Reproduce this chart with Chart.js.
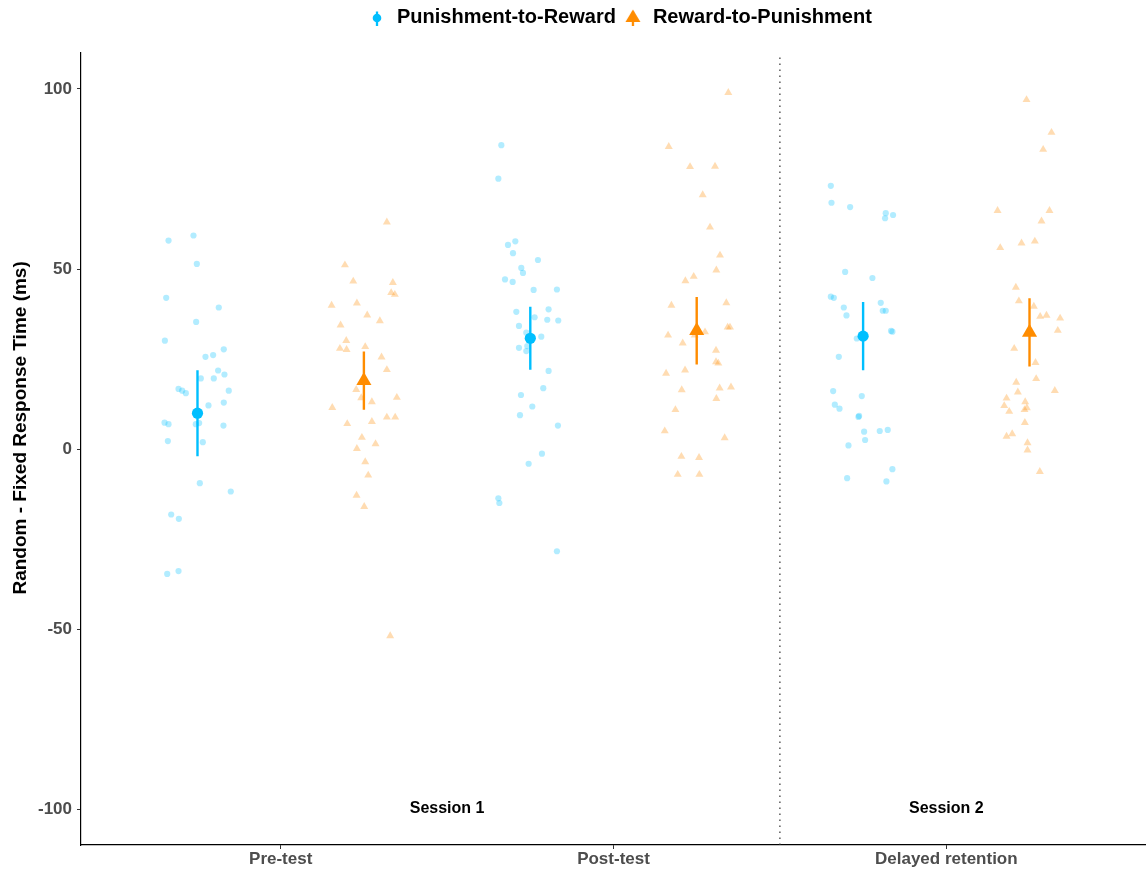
<!DOCTYPE html>
<html>
<head>
<meta charset="utf-8">
<title>Random - Fixed Response Time</title>
<script src="https://cdn.jsdelivr.net/npm/chart.js@4.4.1/dist/chart.umd.min.js"></script>
<style>
  html, body { margin: 0; padding: 0; background: #fff; }
  #wrap { width: 1146px; height: 870px; }
</style>
</head>
<body>
<div id="wrap"><canvas id="chart" width="1146" height="870"></canvas></div>
<script>
// Categorie e gruppi
const phases = ['Pre-test', 'Post-test', 'Delayed retention'];
const groups = ['Punishment-to-Reward', 'Reward-to-Punishment'];
const sessions = ['Session 1', 'Session 2'];
const sessionX = [1.5, 3];
const sessionY = -100;
const yTicks = [-100, -50, 0, 50, 100];

// Medie ed errore standard
const prMean = [9.95, 30.75, 31.35];
const prSE = [11.95, 8.75, 9.45];
const rpMean = [19.0, 32.85, 32.4];
const rpSE = [8.1, 9.35, 9.5];

// Punti individuali (x con jitter)
const prPreY = [57.9, 59.3, 51.4, 42.0, 39.3, 35.3, 30.1, 27.7, 25.6, 26.1, 21.8, 20.7, 19.6, 19.6, 16.7, 16.2, 15.5, 16.2, 12.1, 12.9, 7.3, 6.9, 6.9, 7.2, 6.5, 2.2, 1.9, -9.5, -11.8, -18.2, -19.4, -34.7, -33.9];
const prPreX = [0.663, 0.738, 0.748, 0.656, 0.814, 0.746, 0.652, 0.829, 0.774, 0.797, 0.812, 0.831, 0.760, 0.799, 0.693, 0.704, 0.715, 0.844, 0.783, 0.829, 0.651, 0.663, 0.745, 0.755, 0.828, 0.661, 0.766, 0.757, 0.850, 0.671, 0.694, 0.659, 0.693];

const rpPreY = [63.0, 51.1, 46.6, 46.2, 43.4, 42.9, 39.9, 40.5, 37.2, 35.6, 34.4, 30.1, 27.9, 27.6, 28.4, 25.5, 22.0, 16.5, 14.2, 13.1, 14.3, 11.5, 8.8, 8.8, 7.0, 7.6, 3.2, 0.1, 1.4, -3.6, -7.3, -12.9, -16.0, -51.9];
const rpPreX = [1.319, 1.193, 1.218, 1.337, 1.332, 1.343, 1.153, 1.229, 1.260, 1.298, 1.180, 1.197, 1.178, 1.198, 1.254, 1.303, 1.319, 1.227, 1.242, 1.274, 1.349, 1.155, 1.319, 1.344, 1.200, 1.274, 1.244, 1.229, 1.285, 1.254, 1.263, 1.228, 1.251, 1.329];

const prPostY = [84.4, 75.1, 56.7, 57.7, 54.4, 52.5, 50.3, 48.9, 47.1, 46.4, 44.2, 44.3, 38.8, 38.1, 36.6, 35.9, 35.7, 34.2, 32.3, 31.2, 28.6, 28.1, 27.2, 21.7, 16.9, 15.0, 11.8, 9.4, 6.5, -1.3, -4.1, -13.7, -15.0, -28.4];
const prPostX = [1.663, 1.654, 1.683, 1.705, 1.698, 1.773, 1.723, 1.728, 1.674, 1.697, 1.760, 1.830, 1.805, 1.708, 1.763, 1.801, 1.834, 1.716, 1.738, 1.783, 1.741, 1.716, 1.738, 1.805, 1.789, 1.722, 1.756, 1.719, 1.833, 1.785, 1.745, 1.654, 1.657, 1.830];

const rpPostY = [99.0, 84.0, 78.4, 78.5, 70.6, 61.6, 53.8, 49.7, 47.9, 46.7, 39.9, 40.6, 33.8, 33.8, 32.5, 31.6, 31.6, 29.4, 27.4, 24.2, 23.8, 21.0, 21.9, 16.4, 16.9, 17.2, 14.0, 10.9, 5.0, 3.1, -2.1, -2.4, -7.1, -7.1];
const rpPostX = [2.345, 2.166, 2.230, 2.305, 2.268, 2.290, 2.320, 2.309, 2.241, 2.216, 2.174, 2.339, 2.343, 2.350, 2.275, 2.244, 2.164, 2.208, 2.308, 2.308, 2.315, 2.158, 2.215, 2.205, 2.319, 2.353, 2.309, 2.186, 2.154, 2.334, 2.204, 2.257, 2.193, 2.258];

const prDelY = [73.1, 68.4, 67.2, 65.5, 65.0, 64.1, 49.2, 47.5, 42.3, 42.0, 39.3, 40.6, 38.4, 38.4, 37.1, 32.8, 32.6, 30.7, 25.6, 16.1, 14.7, 12.3, 11.2, 8.9, 9.2, 4.8, 5.0, 5.3, 2.5, 1.0, -5.6, -8.1, -9.0];
const prDelX = [2.653, 2.655, 2.711, 2.818, 2.840, 2.816, 2.696, 2.778, 2.653, 2.662, 2.692, 2.803, 2.809, 2.818, 2.700, 2.834, 2.838, 2.731, 2.677, 2.660, 2.746, 2.665, 2.679, 2.736, 2.738, 2.753, 2.800, 2.824, 2.756, 2.706, 2.838, 2.702, 2.820];

const rpDelY = [97.0, 87.9, 83.2, 66.2, 66.2, 63.3, 55.9, 57.2, 57.7, 44.9, 41.1, 39.6, 36.8, 37.1, 36.3, 32.9, 27.9, 24.0, 19.5, 18.5, 16.2, 15.8, 14.1, 12.0, 13.1, 11.4, 10.9, 10.4, 7.3, 4.2, 3.5, 1.7, -0.3, -6.3];
const rpDelX = [3.241, 3.316, 3.291, 3.154, 3.310, 3.286, 3.162, 3.226, 3.266, 3.209, 3.218, 3.263, 3.282, 3.301, 3.342, 3.335, 3.204, 3.268, 3.270, 3.210, 3.326, 3.215, 3.181, 3.174, 3.237, 3.242, 3.235, 3.189, 3.236, 3.198, 3.181, 3.244, 3.244, 3.281];

const dodge = [-0.25, 0.25];
const divider = 2.5;

const BLUE = '#00BFFF';
const ORANGE = '#FF8C00';
const FONT = '"Liberation Sans", Arial, Helvetica, sans-serif';

// unisce x e y in punti
function toPoints(xs, ys) {
    return xs.map((x, i) => ({ x: x, y: ys[i] }));
}

// segmenti verticali media +/- errore, separati da null
function errorBars(means, se, side) {
    const out = [];
    means.forEach((m, i) => {
        const x = i + 1 + side;
        out.push({ x: x, y: m - se[i] }, { x: x, y: m + se[i] }, { x: x, y: null });
    });
    return out;
}

function meanPoints(means, side) {
    return means.map((m, i) => ({ x: i + 1 + side, y: m }));
}

// icone della legenda (punto + barra)
function legendIcon(color, shape) {
    const c = document.createElement('canvas');
    c.width = 20;
    c.height = 24;
    const g = c.getContext('2d');
    g.strokeStyle = color;
    g.fillStyle = color;
    g.lineWidth = 2.3;
    g.beginPath();
    g.moveTo(10, 6.5);
    g.lineTo(10, 21);
    g.stroke();
    g.beginPath();
    if (shape === 'circle') {
        g.arc(10, 13, 4.3, 0, Math.PI * 2);
    } else {
        g.moveTo(10, 4.5);
        g.lineTo(17.5, 17);
        g.lineTo(2.5, 17);
        g.closePath();
    }
    g.fill();
    return c;
}
const legendIcons = [legendIcon(BLUE, 'circle'), legendIcon(ORANGE, 'triangle')];

// etichette "Session"
const sessionPlugin = {
    id: 'sessionLabels',
    afterDatasetsDraw(chart) {
        const { ctx, scales } = chart;
        ctx.save();
        ctx.font = 'bold 16px ' + FONT;
        ctx.fillStyle = '#000';
        ctx.textAlign = 'center';
        ctx.textBaseline = 'middle';
        sessions.forEach((s, i) => {
            ctx.fillText(s, scales.x.getPixelForValue(sessionX[i]), scales.y.getPixelForValue(sessionY));
        });
        ctx.restore();
    }
};

// sposta la legenda come nell'originale
const legendShift = {
    id: 'legendShift',
    afterLayout(chart) {
        const lg = chart.legend;
        const shift = 360;
        lg.left += shift;
        lg.right += shift;
    }
};

const datasets = [
    {
        label: groups[0] + ' mean', data: meanPoints(prMean, dodge[0]), order: 0,
        pointStyle: 'circle', pointRadius: 5.6, pointBackgroundColor: BLUE, pointBorderWidth: 0
    },
    {
        label: groups[1] + ' mean', data: meanPoints(rpMean, dodge[1]), order: 0,
        pointStyle: 'triangle', pointRadius: 8.7, pointBackgroundColor: ORANGE, pointBorderWidth: 0
    },
    {
        type: 'line', label: groups[0] + ' SE', data: errorBars(prMean, prSE, dodge[0]), order: 1,
        borderColor: BLUE, borderWidth: 2.4, pointRadius: 0, spanGaps: false, fill: false
    },
    {
        type: 'line', label: groups[1] + ' SE', data: errorBars(rpMean, rpSE, dodge[1]), order: 1,
        borderColor: ORANGE, borderWidth: 2.4, pointRadius: 0, spanGaps: false, fill: false
    },
    {
        label: groups[0], order: 2,
        data: toPoints(prPreX, prPreY).concat(toPoints(prPostX, prPostY), toPoints(prDelX, prDelY)),
        pointStyle: 'circle', pointRadius: 3.1, pointBackgroundColor: 'rgba(0,191,255,0.3)', pointBorderWidth: 0
    },
    {
        label: groups[1], order: 2,
        data: toPoints(rpPreX, rpPreY).concat(toPoints(rpPostX, rpPostY), toPoints(rpDelX, rpDelY)),
        pointStyle: 'triangle', pointRadius: 4.6, pointBackgroundColor: 'rgba(255,140,0,0.3)', pointBorderWidth: 0
    },
    {
        type: 'line', label: 'divider', order: 3,
        data: [{ x: divider, y: -110 }, { x: divider, y: 110 }],
        borderColor: '#333', borderWidth: 1.2, borderDash: [1.5, 4.5], pointRadius: 0, fill: false
    }
];

new Chart(document.getElementById('chart'), {
    type: 'scatter',
    data: { datasets: datasets },
    plugins: [sessionPlugin, legendShift],
    options: {
        responsive: false,
        animation: false,
        devicePixelRatio: 1,
        layout: { padding: 0, autoPadding: false },
        plugins: {
            tooltip: { enabled: false },
            legend: {
                position: 'top',
                align: 'start',
                labels: {
                    usePointStyle: true,
                    boxWidth: 20,
                    boxHeight: 20,
                    padding: 7,
                    color: '#000',
                    font: { family: FONT, size: 20, weight: 'bold' },
                    generateLabels: () => groups.map((g, i) => ({
                        text: g,
                        pointStyle: legendIcons[i],
                        fillStyle: i ? ORANGE : BLUE,
                        strokeStyle: i ? ORANGE : BLUE,
                        lineWidth: 0,
                        hidden: false,
                        datasetIndex: i
                    }))
                }
            }
        },
        scales: {
            x: {
                type: 'linear',
                position: 'bottom',
                min: 0.4,
                max: 3.6,
                afterBuildTicks: (s) => { s.ticks = phases.map((p, i) => ({ value: i + 1 })); },
                afterFit: (s) => { s.height = 25; },
                grid: { display: true, drawOnChartArea: false, drawTicks: true, tickLength: 4, color: '#333' },
                border: { display: true, color: '#000', width: 1.2 },
                ticks: {
                    padding: 0,
                    color: '#4D4D4D',
                    font: { family: FONT, size: 17, weight: 'bold' },
                    maxRotation: 0,
                    callback: (v) => phases[Math.round(v) - 1]
                }
            },
            xTop: {
                type: 'linear',
                position: 'top',
                grid: { display: false },
                border: { display: false },
                ticks: { display: false },
                afterFit: (s) => { s.height = 16; }
            },
            y: {
                type: 'linear',
                min: -110,
                max: 110,
                afterBuildTicks: (s) => { s.ticks = yTicks.map(v => ({ value: v })); },
                afterFit: (s) => { s.width = 81; },
                grid: { display: true, drawOnChartArea: false, drawTicks: true, tickLength: 4, color: '#333' },
                border: { display: true, color: '#000', width: 1.2 },
                ticks: {
                    padding: 5,
                    color: '#4D4D4D',
                    font: { family: FONT, size: 17, weight: 'bold' }
                },
                title: {
                    display: true,
                    text: '        Random - Fixed Response Time (ms)',
                    color: '#000',
                    font: { family: FONT, size: 19, weight: 'bold' },
                    padding: { top: 9, bottom: 0 }
                }
            }
        }
    }
});
</script>
</body>
</html>
